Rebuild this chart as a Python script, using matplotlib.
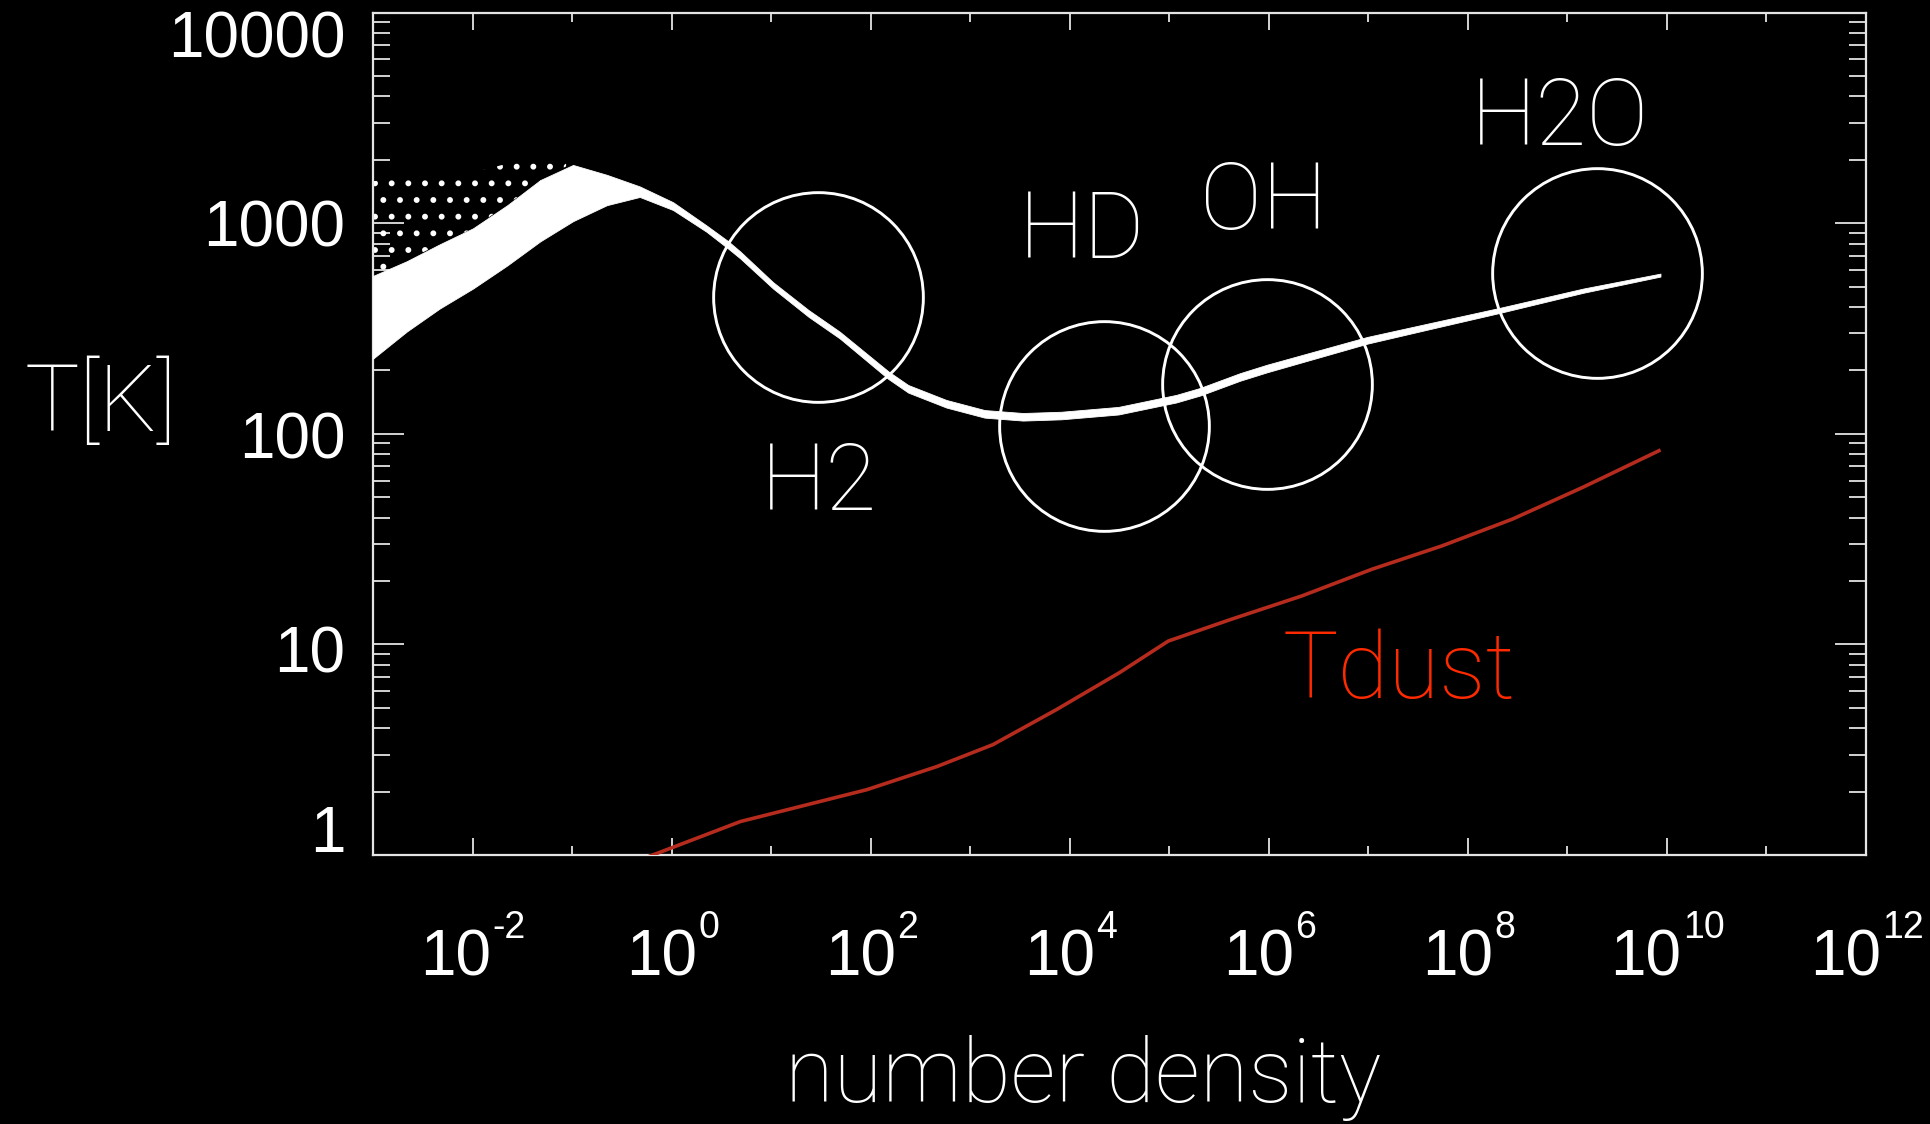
import numpy as np
import matplotlib
matplotlib.use('Agg')
import matplotlib.pyplot as plt

plt.rcParams['font.family'] = ['Liberation Sans', 'DejaVu Sans']
plt.rcParams['axes.unicode_minus'] = False
plt.rcParams['hatch.color'] = 'white'
plt.rcParams['hatch.linewidth'] = 1.8

############################################
#               data (log10)               #
############################################

# gas temperature band: density, lower and upper edge of the point cloud
gas_logn = [-3.0, -2.66, -2.33, -1.995, -1.65, -1.32, -0.99, -0.65, -0.32, 0.015,
            0.35, 0.568, 0.69, 1.02, 1.376, 1.69, 2.18, 2.377, 2.76, 3.145, 3.53,
            3.915, 4.49, 5.07, 5.31, 5.71, 5.98, 6.987, 7.65, 8.327, 9.16, 9.935]
gas_logT_hi = [2.75, 2.82, 2.90, 2.976, 3.086, 3.205, 3.277, 3.23, 3.175, 3.10,
               2.99, 2.915, 2.866, 2.72, 2.588, 2.485, 2.296, 2.232, 2.161, 2.113, 2.099,
               2.105, 2.128, 2.185, 2.218, 2.288, 2.328, 2.46, 2.529, 2.599, 2.69, 2.761]
gas_logT_lo = [2.357, 2.486, 2.595, 2.69, 2.80, 2.914, 3.01, 3.086, 3.125, 3.063,
               2.96, 2.88, 2.833, 2.69, 2.556, 2.453, 2.26, 2.196, 2.125, 2.077, 2.063,
               2.069, 2.092, 2.149, 2.182, 2.252, 2.292, 2.428, 2.501, 2.575, 2.67, 2.747]

# sparse points above the band at low density
sparse_logn = [-3.0, -2.33, -1.995, -1.56, -1.26, -1.06]
sparse_logT_lo = [2.75, 2.90, 2.976, 3.12, 3.22, 3.27]
sparse_logT_hi = [3.20, 3.23, 3.24, 3.295, 3.31, 3.29]

# dust temperature
dust_logn = [-0.30, 0.692, 1.96, 2.665, 3.228, 3.865, 4.50, 4.99, 5.62, 6.33,
             7.036, 7.74, 8.447, 9.15, 9.92]
dust_logT = [-0.02, 0.159, 0.31, 0.42, 0.524, 0.69, 0.866, 1.016, 1.119, 1.23,
             1.357, 1.468, 1.595, 1.745, 1.92]

# coolant labels and circles
species = ['H2', 'HD', 'OH', 'H2O']
circle_logn = [1.468, 4.345, 5.98, 9.297]
circle_logT = [2.651, 2.036, 2.237, 2.764]
label_logn = [1.48, 4.123, 5.951, 8.926]
label_logT = [1.637, 2.833, 2.974, 3.372]

dust_label = 'Tdust'
dust_label_pos = (7.31, 0.745)

x_major_exp = [-2, 0, 2, 4, 6, 8, 10, 12]
x_minor_exp = [-3, -1, 1, 3, 5, 7, 9, 11]
y_ticks = [1, 10, 100, 1000, 10000]
y_ticklabels = ['1', '10', '100', '1000', '10000']


############################################
#               plot                       #
############################################

fg = '#e4e4e4'
fig = plt.figure(figsize=(19.30, 11.24), dpi=100, facecolor='black')
ax = fig.add_axes([0.19326, 0.23932, 0.77358, 0.74938])
ax.set_facecolor('black')
ax.set_xscale('log')
ax.set_yscale('log')
ax.set_xlim(1e-3, 1e12)
ax.set_ylim(1, 1e4)

n = 10.0 ** np.array(gas_logn)
ax.fill_between(n, 10.0 ** np.array(gas_logT_lo), 10.0 ** np.array(gas_logT_hi),
                color='white', lw=0.6, zorder=3)
ax.fill_between(10.0 ** np.array(sparse_logn), 10.0 ** np.array(sparse_logT_lo),
                10.0 ** np.array(sparse_logT_hi), facecolor='none', edgecolor='white',
                hatch='.', lw=0, zorder=2)

ax.plot(10.0 ** np.array(dust_logn), 10.0 ** np.array(dust_logT),
        color='#b52b1d', lw=2.6, zorder=3, solid_joinstyle='round')

# circles
ax.plot(10.0 ** np.array(circle_logn), 10.0 ** np.array(circle_logT), 'o',
        ms=151, mfc='none', mec='white', mew=2.1, zorder=4, clip_on=False)

big = dict(family=['Roboto', 'DejaVu Sans'], weight='light')
for s, lx, ly in zip(species, label_logn, label_logT):
    ax.text(10 ** lx, 10 ** ly, s, color='white', fontsize=67, ha='center',
            va='baseline', **big)
ax.text(10 ** dust_label_pos[0], 10 ** dust_label_pos[1], dust_label,
        color='#ff2a00', fontsize=67, ha='center', va='baseline', **big)

# spines and ticks
for sp in ax.spines.values():
    sp.set_color(fg)
    sp.set_linewidth(1.6)

ax.xaxis.set_ticks_position('both')
ax.yaxis.set_ticks_position('both')
ax.set_xticks(10.0 ** np.array(x_major_exp))
ax.set_xticks(10.0 ** np.array(x_minor_exp), minor=True)
ax.set_xticklabels([])
ax.set_xticklabels([], minor=True)
ax.set_yticks(y_ticks)
ax.set_yticks([m * 10 ** d for d in range(4) for m in range(2, 10)], minor=True)
ax.set_yticklabels([])
ax.set_yticklabels([], minor=True)

ax.tick_params(axis='x', which='major', direction='in', length=12.2, width=1.3, color=fg)
ax.tick_params(axis='x', which='minor', direction='in', length=6.5, width=1.3, color=fg)
ax.tick_params(axis='y', which='major', direction='in', length=22.3, width=1.3, color=fg)
ax.tick_params(axis='y', which='minor', direction='in', length=12.2, width=1.3, color=fg)

# y tick labels, shifted like the original
y_lab_off = [14.4, -7.9, -5.8, -4.3, -20.2]
for v, lab, off in zip(y_ticks, y_ticklabels, y_lab_off):
    ax.annotate(lab, xy=(0, v), xycoords=('axes fraction', 'data'),
                xytext=(-20, off), textcoords='offset points',
                ha='right', va='center', color='white', fontsize=46)

# x tick labels: "10" with a small raised exponent, centred as a whole
base_txt, exp_txt = [], []
for e in x_major_exp:
    b = ax.annotate('10', xy=(10.0 ** e, 0), xycoords=('data', 'axes fraction'),
                    xytext=(0, -86.4), textcoords='offset points',
                    ha='right', va='baseline', color='white', fontsize=46)
    t = ax.annotate(str(e), xy=(10.0 ** e, 0), xycoords=('data', 'axes fraction'),
                    xytext=(0, -60), textcoords='offset points',
                    ha='left', va='baseline', color='white', fontsize=27)
    base_txt.append(b)
    exp_txt.append(t)

fig.canvas.draw()
r = fig.canvas.get_renderer()
for b, t in zip(base_txt, exp_txt):
    wb = b.get_window_extent(r).width
    wt = t.get_window_extent(r).width
    dx = (wb - wt) / 2 * 72 / fig.dpi
    b.xyann = (dx, -86.4)
    t.xyann = (dx + 1, -60)

fig.text(0.0523, 0.639, 'T[K]', color='white', fontsize=66, ha='center',
         va='center', **big)
fig.text(0.561, 0.0196, 'number density', color='white', fontsize=64,
         ha='center', va='baseline', **big)

plt.savefig('out.png', dpi=100, facecolor='black')
